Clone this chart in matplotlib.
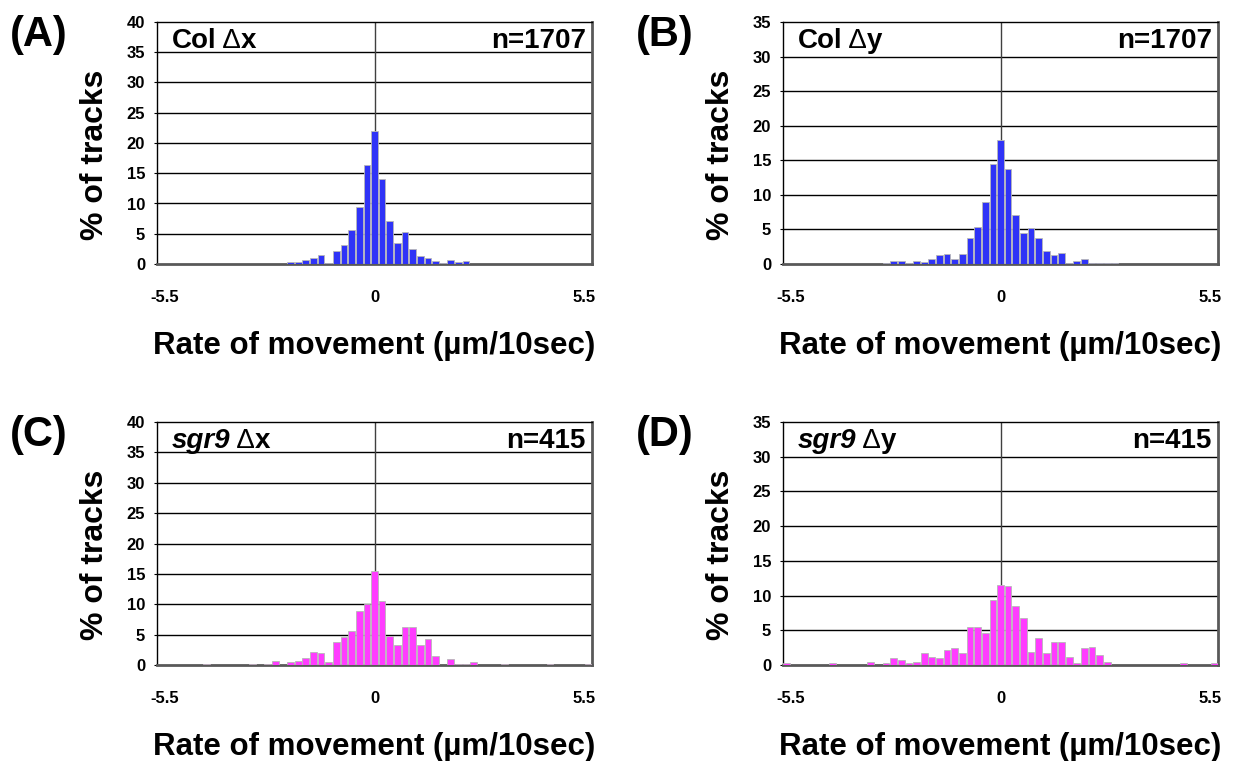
import numpy as np
import matplotlib
matplotlib.use('Agg')
import matplotlib.pyplot as plt

plt.rcParams['font.family'] = ['Liberation Sans', 'DejaVu Sans']

# bins of 0.2 um/10sec, centres -5.6 ... 5.6
bin_index = np.arange(-28, 29)
bin_centers = bin_index * 0.2

col_dx = [0, 0, 0, 0, 0, 0, 0, 0, 0, 0, 0, 0, 0,
          0.06, 0, 0.06, 0, 0.35, 0.41, 0.59, 1.05, 1.41, 0.23, 2.11, 3.1, 5.62, 9.37, 16.4,
          22.0,
          14.1, 7.03, 3.51, 5.33, 2.4, 1.29, 1.05, 0.47, 0.12, 0.59, 0.35, 0.53,
          0, 0, 0, 0, 0.06, 0, 0, 0, 0, 0, 0, 0, 0.06, 0, 0, 0]

col_dy = [0, 0, 0, 0, 0, 0, 0, 0, 0, 0, 0, 0, 0,
          0.18, 0.38, 0.47, 0.12, 0.41, 0.35, 0.7, 1.23, 1.41, 0.7, 1.46, 3.81, 5.33, 8.9, 14.4,
          18.0,
          13.7, 7.03, 4.45, 5.21, 3.75, 1.82, 1.29, 1.52, 0.18, 0.41, 0.7, 0.12, 0.12, 0.18, 0.12,
          0, 0, 0, 0, 0, 0.06, 0, 0, 0, 0, 0, 0, 0.06]

sgr9_dx = [0, 0, 0, 0, 0, 0, 0.24, 0, 0, 0, 0, 0, 0.24,
           0, 0.24, 0.72, 0, 0.48, 0.72, 1.2, 2.17, 1.93, 0.48, 3.86, 4.58, 5.54, 8.92, 10.12,
           15.42,
           10.6, 4.82, 3.37, 6.27, 6.27, 3.37, 4.34, 1.45, 0, 0.96, 0.24, 0.24, 0.48,
           0, 0, 0, 0.24, 0, 0, 0, 0, 0, 0.24, 0, 0, 0, 0, 0.24]

sgr9_dy = [0.24, 0, 0, 0, 0, 0, 0.24, 0, 0, 0, 0, 0.48, 0,
           0.24, 0.96, 0.72, 0.24, 0.48, 1.69, 1.2, 0.96, 2.17, 2.41, 1.69, 5.54, 5.54, 4.58, 9.4,
           11.57,
           11.33, 8.43, 6.75, 1.93, 3.86, 1.69, 3.37, 3.37, 1.2, 0.24, 2.41, 2.65, 1.45, 0.48,
           0, 0, 0, 0, 0, 0, 0, 0, 0, 0.24, 0, 0, 0, 0.24]

panel_letters = ['(A)', '(B)', '(C)', '(D)']
genotypes = ['Col', 'Col', 'sgr9', 'sgr9']
directions = ['x', 'y', 'x', 'y']
counts = ['n=1707', 'n=1707', 'n=415', 'n=415']
y_max = [40, 35, 40, 35]
series = [col_dx, col_dy, sgr9_dx, sgr9_dy]
bar_colors = ['#2f33f7', '#2f33f7', '#ff3cff', '#ff3cff']

W, H = 1234, 761
fig = plt.figure(figsize=(W / 100, H / 100), dpi=100)

# axes boxes in pixels: left, top, right, bottom
boxes = [(157, 22, 592, 264), (783, 22, 1218, 264),
         (157, 422, 592, 665), (783, 422, 1218, 665)]


def make_axes(box):
    l, t, r, b = box
    return fig.add_axes([l / W, 1 - b / H, (r - l) / W, (b - t) / H])


for i, box in enumerate(boxes):
    ax = make_axes(box)
    ymax = y_max[i]
    vals = np.array(series[i])
    shown = vals > 0
    ax.bar(bin_centers[shown], vals[shown], width=0.2 * 0.88, color=bar_colors[i],
           edgecolor='#b8b8b8', linewidth=0.6, zorder=3)
    ax.set_xlim(-5.7, 5.7)
    ax.set_ylim(0, ymax)
    for yv in range(5, ymax, 5):
        ax.axhline(yv, color='black', lw=1.0, zorder=1)
    ax.axvline(0, color='#404040', lw=1.0, zorder=1)

    ax.set_yticks(range(0, ymax + 1, 5))
    ax.set_xticks([-5.5, 0, 5.5])
    ax.set_xticklabels(['-5.5', '0', '5.5'])
    ax.tick_params(axis='y', length=2.5, width=0.8, pad=6, labelsize=12)
    ax.tick_params(axis='x', length=0, pad=19, labelsize=12)
    for lab in ax.get_xticklabels() + ax.get_yticklabels():
        lab.set_fontweight('bold')

    ax.spines['left'].set_color('black')
    ax.spines['left'].set_linewidth(1.0)
    ax.spines['top'].set_color('black')
    ax.spines['top'].set_linewidth(1.0)
    for side in ['right', 'bottom']:
        ax.spines[side].set_color('#595959')
        ax.spines[side].set_linewidth(2.0)

    # label inside plot: genotype + delta + direction
    style = 'italic' if genotypes[i] == 'sgr9' else 'normal'
    t1 = ax.text(0.034, 0.975, genotypes[i], transform=ax.transAxes, fontsize=20,
                 fontweight='bold', fontstyle=style, ha='left', va='top', zorder=5)
    t2 = ax.annotate(' \u0394', xy=(1, 0), xycoords=t1, ha='left', va='bottom',
                     fontsize=20, fontweight='normal', zorder=5)
    ax.annotate(directions[i], xy=(1, 0), xycoords=t2, ha='left', va='bottom',
                fontsize=20, fontweight='bold', zorder=5)
    ax.text(0.986, 0.975, counts[i], transform=ax.transAxes, fontsize=20,
            fontweight='bold', ha='right', va='top', zorder=5)

    l, t, r, b = box
    cx = (l + r) / 2
    fig.text((l - 157 + 39) / W, 1 - (t - 22 + 35) / H, panel_letters[i],
             fontsize=30, fontweight='bold', ha='center', va='center')
    fig.text((l - 62) / W, 1 - (t + 133) / H, '% of tracks', rotation=90,
             fontsize=23, fontweight='bold', ha='center', va='center')
    fig.text(cx / W, 1 - (b + 82) / H, 'Rate of movement (\u00b5m/10sec)',
             fontsize=22.5, fontweight='bold', ha='center', va='center')

fig.savefig('out.png', dpi=100)
